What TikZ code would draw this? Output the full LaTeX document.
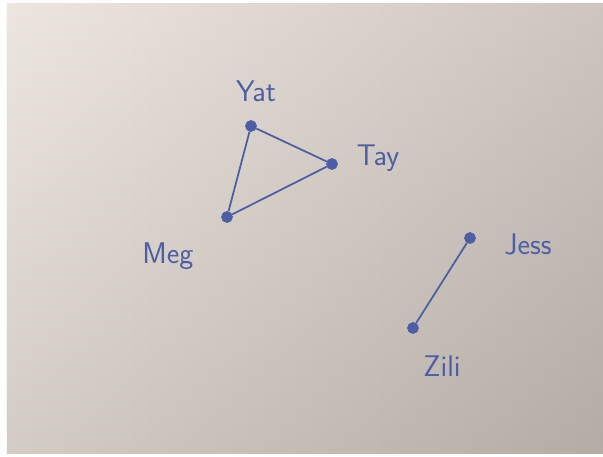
\documentclass[tikz,border=0pt]{standalone}
\usepackage{tikz}
\definecolor{pen}{RGB}{78,94,165}
\definecolor{paperL}{RGB}{234,228,219}
\definecolor{paperR}{RGB}{200,192,184}
\tikzset{
  dot/.style={fill=pen, draw=pen, circle, inner sep=0pt, minimum size=2.2mm},
  tag/.style={text=pen, font=\sffamily\fontsize{17}{19}\selectfont}
}
\begin{document}
\begin{tikzpicture}[x=0.02cm, y=-0.02cm]
  \useasboundingbox (0,0) rectangle (603,457);
  \fill[white] (0,0) rectangle (603,457);
  \shade[left color=paperL, right color=paperR] (7,3) rectangle (603,453);
  \shade[top color=white, bottom color=black, opacity=0.1] (7,3) rectangle (603,453);
  \draw
    (251,126) node[dot] (yat){}
    (332,164) node[dot] (tay){}
    (227,217) node[dot] (meg){}
    (470,238) node[dot] (jess){}
    (413,328) node[dot] (zili){};
  \path
    (256,91) node[tag] (yatlabel){Yat}
    (378,158) node[tag] (taylabel){Tay}
    (168,256) node[tag] (meglabel){Meg}
    (528,244) node[tag] (jesslabel){Jess}
    (442,366) node[tag] (zililabel){Zili};
  \begin{scope}[draw=pen, line width=1pt]
    \draw (yat) to (tay);
    \draw (tay) to (meg);
    \draw (meg) to (yat);
    \draw (jess) to (zili);
  \end{scope}
\end{tikzpicture}
\end{document}
